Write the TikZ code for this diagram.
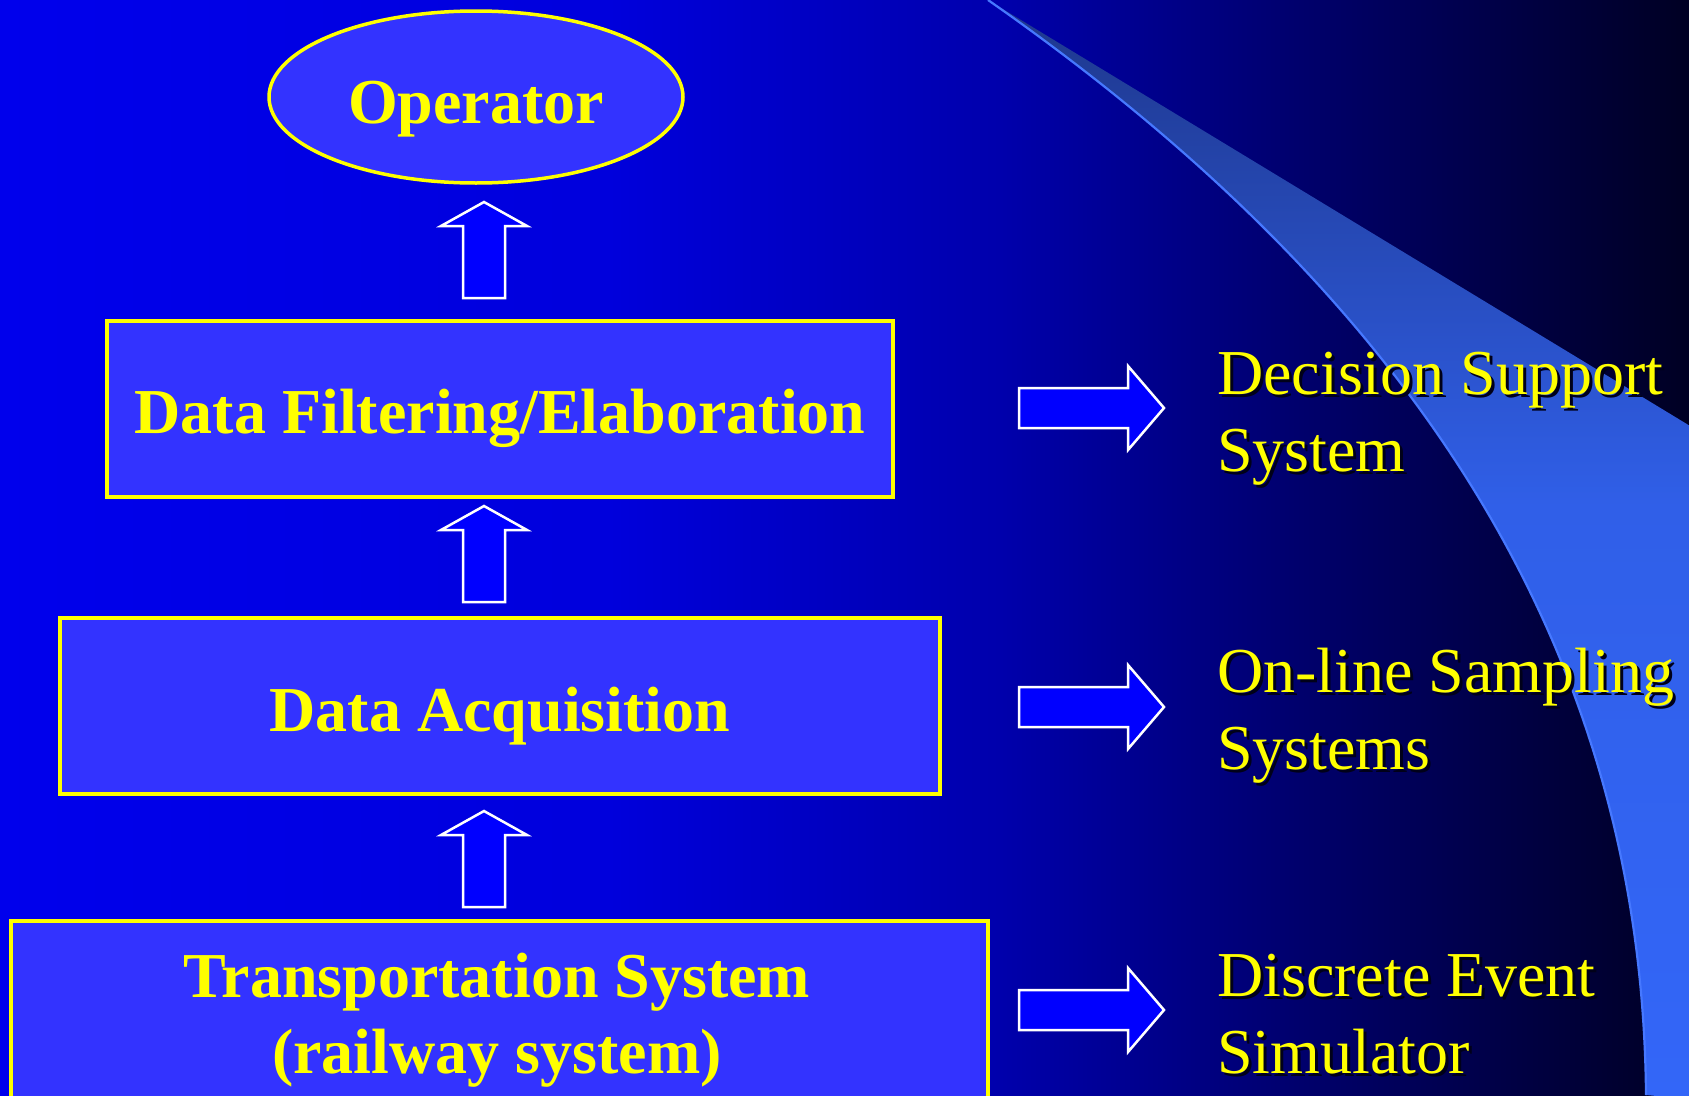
\documentclass[tikz,border=0pt]{standalone}
\usepackage{fontspec}
\setmainfont{Liberation Serif}
\usetikzlibrary{shapes.geometric}
\definecolor{boxblue}{RGB}{51,51,255}
\definecolor{arrblue}{RGB}{0,0,255}
\definecolor{ylw}{RGB}{255,255,0}
\definecolor{shadowc}{RGB}{0,0,25}
\definecolor{edgeblue}{RGB}{70,120,255}
\definecolor{bgA}{RGB}{0,0,236}
\definecolor{bgB}{RGB}{0,0,220}
\definecolor{bgC}{RGB}{0,0,172}
\definecolor{bgD}{RGB}{0,0,108}
\definecolor{bgE}{RGB}{0,0,35}
\definecolor{swA}{RGB}{51,102,248}
\definecolor{swB}{RGB}{48,95,232}
\definecolor{swC}{RGB}{30,55,140}
\pgfdeclarehorizontalshading{bgshade}{100bp}{color(0bp)=(bgA); color(25bp)=(bgA); color(43bp)=(bgB); color(54.6bp)=(bgC); color(63.5bp)=(bgD); color(75bp)=(bgE); color(100bp)=(bgE)}
\pgfdeclareverticalshading{swshade}{100bp}{color(0bp)=(swA); color(25bp)=(swA); color(52bp)=(swB); color(75bp)=(swC); color(100bp)=(swC)}
\tikzset{
  boxst/.style={rectangle, draw=ylw, line width=4, fill=boxblue, inner sep=0},
  boldtxt/.style={text=ylw, inner sep=0, font=\fontsize{64}{76}\selectfont\bfseries},
  sidetxt/.style={text=ylw, inner sep=0, align=left, anchor=base west, font=\fontsize{64}{77}\selectfont},
  sideshadow/.style={text=shadowc, inner sep=0, align=left, anchor=base west, font=\fontsize{64}{77}\selectfont},
  blockarr/.style={draw=white, line width=2.5, fill=arrblue, line join=miter},
  uparr/.pic={\path[blockarr] (0,0) -- (43,24) -- (21,24) -- (21,96) -- (-21,96) -- (-21,24) -- (-43,24) -- cycle;},
  rightarr/.pic={\path[blockarr] (0,0) -- (-36,-42) -- (-36,-20) -- (-145,-20) -- (-145,20) -- (-36,20) -- (-36,42) -- cycle;}
}
\begin{document}
\begin{tikzpicture}[x=1pt, y={(0pt,-1pt)}]
\useasboundingbox (0,0) rectangle (1689,1095);
\clip (0,0) rectangle (1689,1095);
% background
\fill[shading=bgshade] (0,0) rectangle (1689,1095);
% swoosh
\coordinate (swtop) at (988,0);
\coordinate (swbot) at (1646,1095);
\path[shading=swshade] (swtop) .. controls (1412,296) and (1642,648) .. (swbot) -- (1700,1100) -- (1700,432) -- cycle;
\draw[edgeblue, line width=2.2] (swtop) .. controls (1412,296) and (1642,648) .. (swbot);
% operator
\node[ellipse, draw=ylw, line width=3.5, fill=boxblue, minimum width=414, minimum height=172, inner sep=0] (op) at (476,97) {};
\node[boldtxt, anchor=base] (optxt) at (476,123) {Operator};
% boxes
\node[boxst, minimum width=786, minimum height=176] (filt) at (500,409) {};
\node[boldtxt, anchor=base] (filttxt) at (500,433) {Data Filtering/Elaboration};
\node[boxst, minimum width=880, minimum height=176] (acq) at (500,706) {};
\node[boldtxt, anchor=base] (acqtxt) at (500,731) {Data Acquisition};
\node[boxst, minimum width=977, minimum height=200] (trans) at (499.5,1021) {};
\node[boldtxt, anchor=base, align=center] (transtxt) at (497,1073) {Transportation System\\(railway system)};
% up arrows
\pic at (484,202) {uparr};
\pic at (484,506) {uparr};
\pic at (484,811) {uparr};
% right arrows
\pic at (1164,408) {rightarr};
\pic at (1164,707) {rightarr};
\pic at (1164,1010) {rightarr};
% side texts
\node[sideshadow] (dssshadow) at (1220,474) {Decision Support\\System};
\node[sidetxt] (dss) at (1217,471) {Decision Support\\System};
\node[sideshadow] (olsshadow) at (1220,772) {On-line Sampling\\Systems};
\node[sidetxt] (ols) at (1217,769) {On-line Sampling\\Systems};
\node[sideshadow] (desshadow) at (1220,1076) {Discrete Event\\Simulator};
\node[sidetxt] (des) at (1217,1073) {Discrete Event\\Simulator};
\end{tikzpicture}
\end{document}
